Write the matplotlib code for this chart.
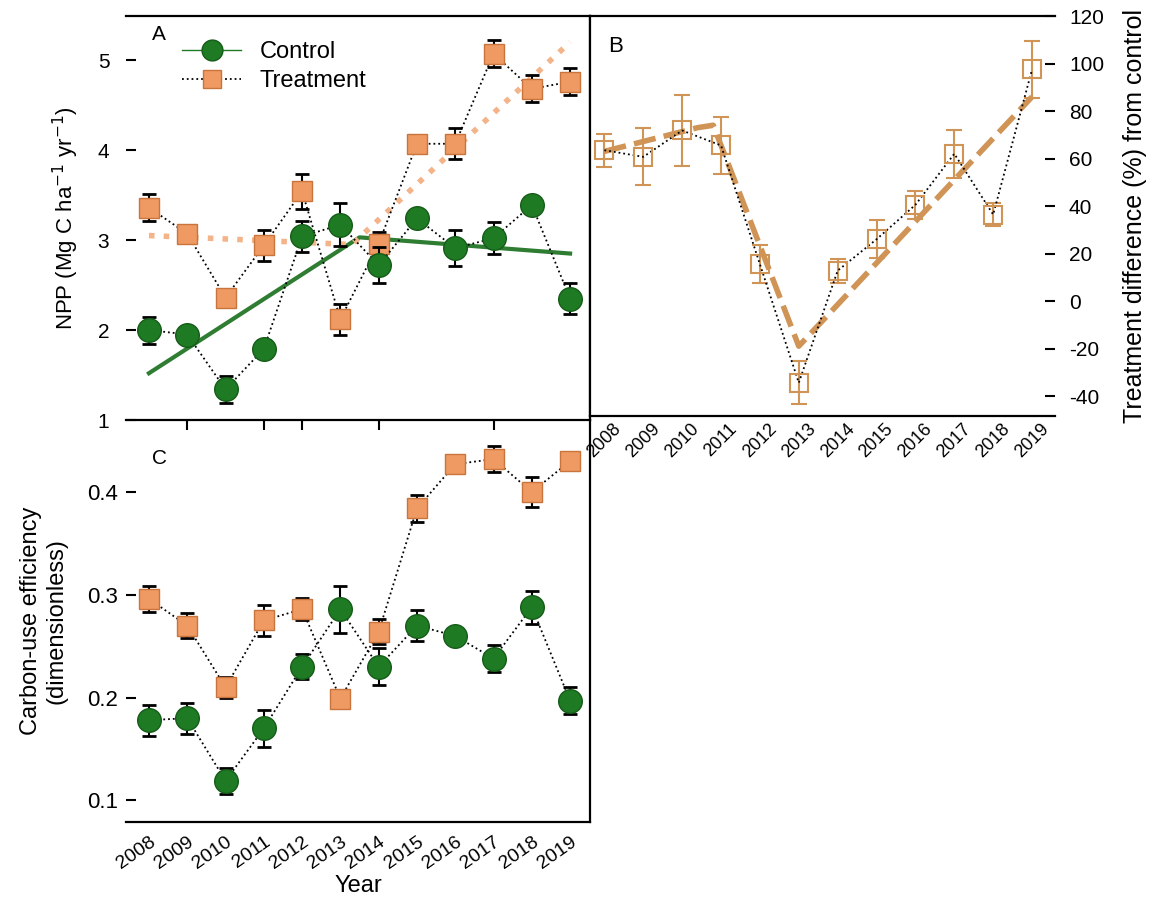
"""
NPP / carbon-use efficiency chart, control vs treatment
"""

import matplotlib

matplotlib.use("Agg")  # noqa: E402
import matplotlib.pyplot as plt  # noqa: E402
from matplotlib.lines import Line2D  # noqa: E402

plt.rcParams["font.family"] = ["Liberation Sans", "DejaVu Sans"]
plt.rcParams["axes.unicode_minus"] = False

years = [2008, 2009, 2010, 2011, 2012, 2013, 2014, 2015, 2016, 2017, 2018, 2019]
year_labels = [str(y) for y in years]

# A: NPP
npp_control = [2.00, 1.95, 1.34, 1.79, 3.04, 3.17, 2.72, 3.24, 2.91, 3.02, 3.39, 2.35]
npp_control_se = [0.15, 0.06, 0.15, 0.10, 0.17, 0.24, 0.20, 0.05, 0.20, 0.18, 0.05, 0.17]
npp_treat = [3.36, 3.07, 2.36, 2.94, 3.54, 2.12, 2.96, 4.07, 4.07, 5.07, 4.68, 4.76]
npp_treat_se = [0.15, 0.05, 0.05, 0.17, 0.19, 0.17, 0.13, 0.05, 0.17, 0.15, 0.15, 0.15]

# piecewise trend lines in A
ctrl_trend_x = [2008, 2013.5, 2019]
ctrl_trend_y = [1.52, 3.03, 2.85]
treat_trend_x = [2008, 2013.3, 2019]
treat_trend_y = [3.05, 2.95, 5.20]

# B: treatment difference (%)
diff = [63.5, 60.7, 71.8, 65.5, 15.5, -34.4, 12.8, 26.0, 40.5, 62.0, 36.4, 97.5]
diff_se = [7, 12, 15, 12, 8, 9, 5, 8, 6, 10, 5, 12]
diff_trend_x = [2008, 2010.4, 2010.8, 2013.0, 2019]
diff_trend_y = [63, 73, 74, -19, 86]

# C: carbon-use efficiency
cue_control = [0.178, 0.180, 0.119, 0.170, 0.230, 0.286, 0.230, 0.270, 0.260, 0.238, 0.288, 0.197]
cue_control_se = [0.015, 0.015, 0.013, 0.018, 0.012, 0.023, 0.018, 0.015, 0.004, 0.013, 0.016, 0.013]
cue_treat = [0.296, 0.270, 0.210, 0.275, 0.286, 0.199, 0.264, 0.384, 0.427, 0.432, 0.400, 0.430]
cue_treat_se = [0.013, 0.012, 0.010, 0.015, 0.011, 0.0, 0.012, 0.013, 0.004, 0.013, 0.015, 0.008]

tick_years_ac = [2009, 2011, 2012, 2014, 2017]
tick_years_b = [2010, 2013, 2015, 2016, 2018]

GREEN = "#1f7a24"
GREEN_EDGE = "#155c18"
ORANGE = "#ee9a62"
ORANGE_EDGE = "#c8743c"
TREND_ORANGE = "#f4b48a"
B_COLOR = "#cf9456"

W, H = 1157, 909
fig = plt.figure(figsize=(W / 100, H / 100), dpi=100)


def box(x0, y0, x1, y1):
    return [x0 / W, 1 - y1 / H, (x1 - x0) / W, (y1 - y0) / H]


axA = fig.add_axes(box(126, 16, 590, 420))
axB = fig.add_axes(box(590, 16, 1055, 416))
axC = fig.add_axes(box(126, 420, 590, 822))
axC.patch.set_alpha(0)

for ax in (axA, axB, axC):
    for s in ax.spines.values():
        s.set_linewidth(1.6)

# ---- panel A ----
axA.plot(ctrl_trend_x, ctrl_trend_y, "-", color="#2e7d32", linewidth=3, zorder=2)
axA.plot(treat_trend_x, treat_trend_y, ":", color=TREND_ORANGE, linewidth=4, zorder=2)
axA.errorbar(years, npp_treat, yerr=npp_treat_se, fmt="s", ls=":", color="black", lw=1.3,
             ecolor="black", elinewidth=1.5, capsize=5, capthick=2,
             markersize=15, markerfacecolor=ORANGE, markeredgecolor=ORANGE_EDGE, zorder=3)
axA.errorbar(years, npp_control, yerr=npp_control_se, fmt="o", ls=":", color="black", lw=1.3,
             ecolor="black", elinewidth=1.5, capsize=5, capthick=2,
             markersize=17, markerfacecolor=GREEN, markeredgecolor=GREEN_EDGE, zorder=4)
axA.set_xlim(2007.4, 2019.52)
axA.set_ylim(1, 5.49)
axA.set_yticks([1, 2, 3, 4, 5])
axA.spines["left"].set_visible(False)
axA.tick_params(axis="y", direction="in", length=7, width=1.5, pad=12, labelsize=15)
axA.set_xticks(tick_years_ac)
axA.tick_params(axis="x", direction="out", length=7, width=1.5, labelbottom=False)
axA.set_ylabel("NPP (Mg C ha$^{-1}$ yr$^{-1}$)", fontsize=16, labelpad=12)
axA.text(0.055, 0.955, "A", transform=axA.transAxes, fontsize=15, va="center")

handles = [
    Line2D([], [], color=GREEN, ls="-", lw=1, marker="o", markersize=15,
           markerfacecolor=GREEN, markeredgecolor=GREEN_EDGE),
    Line2D([], [], color="black", ls=":", lw=1.3, marker="s", markersize=13,
           markerfacecolor=ORANGE, markeredgecolor=ORANGE_EDGE),
]
axA.legend(handles, ["Control", "Treatment"], loc="upper left", bbox_to_anchor=(0.075, 0.99),
           frameon=False, fontsize=17, handlelength=2.5, labelspacing=0.3, handletextpad=0.8)

# ---- panel B ----
axB.plot(diff_trend_x, diff_trend_y, "--", color=B_COLOR, linewidth=4, dashes=(4, 1.5), zorder=2)
axB.errorbar(years, diff, yerr=diff_se, fmt="s", ls=":", color="black", lw=1.3,
             ecolor=B_COLOR, elinewidth=1.5, capsize=6, capthick=1.5,
             markersize=13, markerfacecolor="none", markeredgecolor=B_COLOR, mew=1.5, zorder=3)
axB.set_xlim(2007.63, 2019.59)
axB.set_ylim(-48.4, 120)
axB.spines["right"].set_visible(False)
axB.yaxis.tick_right()
axB.yaxis.set_label_position("right")
axB.set_yticks([-40, -20, 0, 20, 40, 60, 80, 100, 120])
axB.tick_params(axis="y", direction="in", length=7, width=1.5, pad=10, labelsize=15)
axB.set_xticks(years)
axB.set_xticklabels(year_labels, rotation=45, ha="center", fontsize=13)
axB.tick_params(axis="x", which="major", length=0, pad=3)
axB.set_xticks(tick_years_b, minor=True)
axB.tick_params(axis="x", which="minor", direction="out", length=7, width=1.5)
axB.set_ylabel("Treatment difference (%) from control", fontsize=18, labelpad=14)
axB.text(0.04, 0.925, "B", transform=axB.transAxes, fontsize=16, va="center")

# ---- panel C ----
axC.errorbar(years, cue_treat, yerr=cue_treat_se, fmt="s", ls=":", color="black", lw=1.3,
             ecolor="black", elinewidth=1.5, capsize=5, capthick=2,
             markersize=15, markerfacecolor=ORANGE, markeredgecolor=ORANGE_EDGE, zorder=3)
axC.errorbar(years, cue_control, yerr=cue_control_se, fmt="o", ls=":", color="black", lw=1.3,
             ecolor="black", elinewidth=1.5, capsize=5, capthick=2,
             markersize=17, markerfacecolor=GREEN, markeredgecolor=GREEN_EDGE, zorder=4)
axC.set_xlim(2007.4, 2019.52)
axC.set_ylim(0.079, 0.47)
axC.set_yticks([0.1, 0.2, 0.3, 0.4])
axC.spines["left"].set_visible(False)
axC.spines["top"].set_visible(False)
axC.tick_params(axis="y", direction="in", length=7, width=1.5, pad=6, labelsize=16)
axC.set_xticks(years)
axC.set_xticklabels(year_labels, rotation=35, ha="right", rotation_mode="anchor", fontsize=14)
axC.tick_params(axis="x", which="major", length=0, pad=8)
axC.set_xticks(tick_years_ac, minor=True)
axC.tick_params(axis="x", which="minor", direction="out", length=7, width=1.5)
axC.set_xlabel("Year", fontsize=17, labelpad=2)
axC.set_ylabel("Carbon-use efficiency\n(dimensionless)", fontsize=17, labelpad=14)
axC.text(0.055, 0.905, "C", transform=axC.transAxes, fontsize=15, va="center")

fig.savefig("out.png", dpi=100, facecolor="white")
plt.close(fig)
